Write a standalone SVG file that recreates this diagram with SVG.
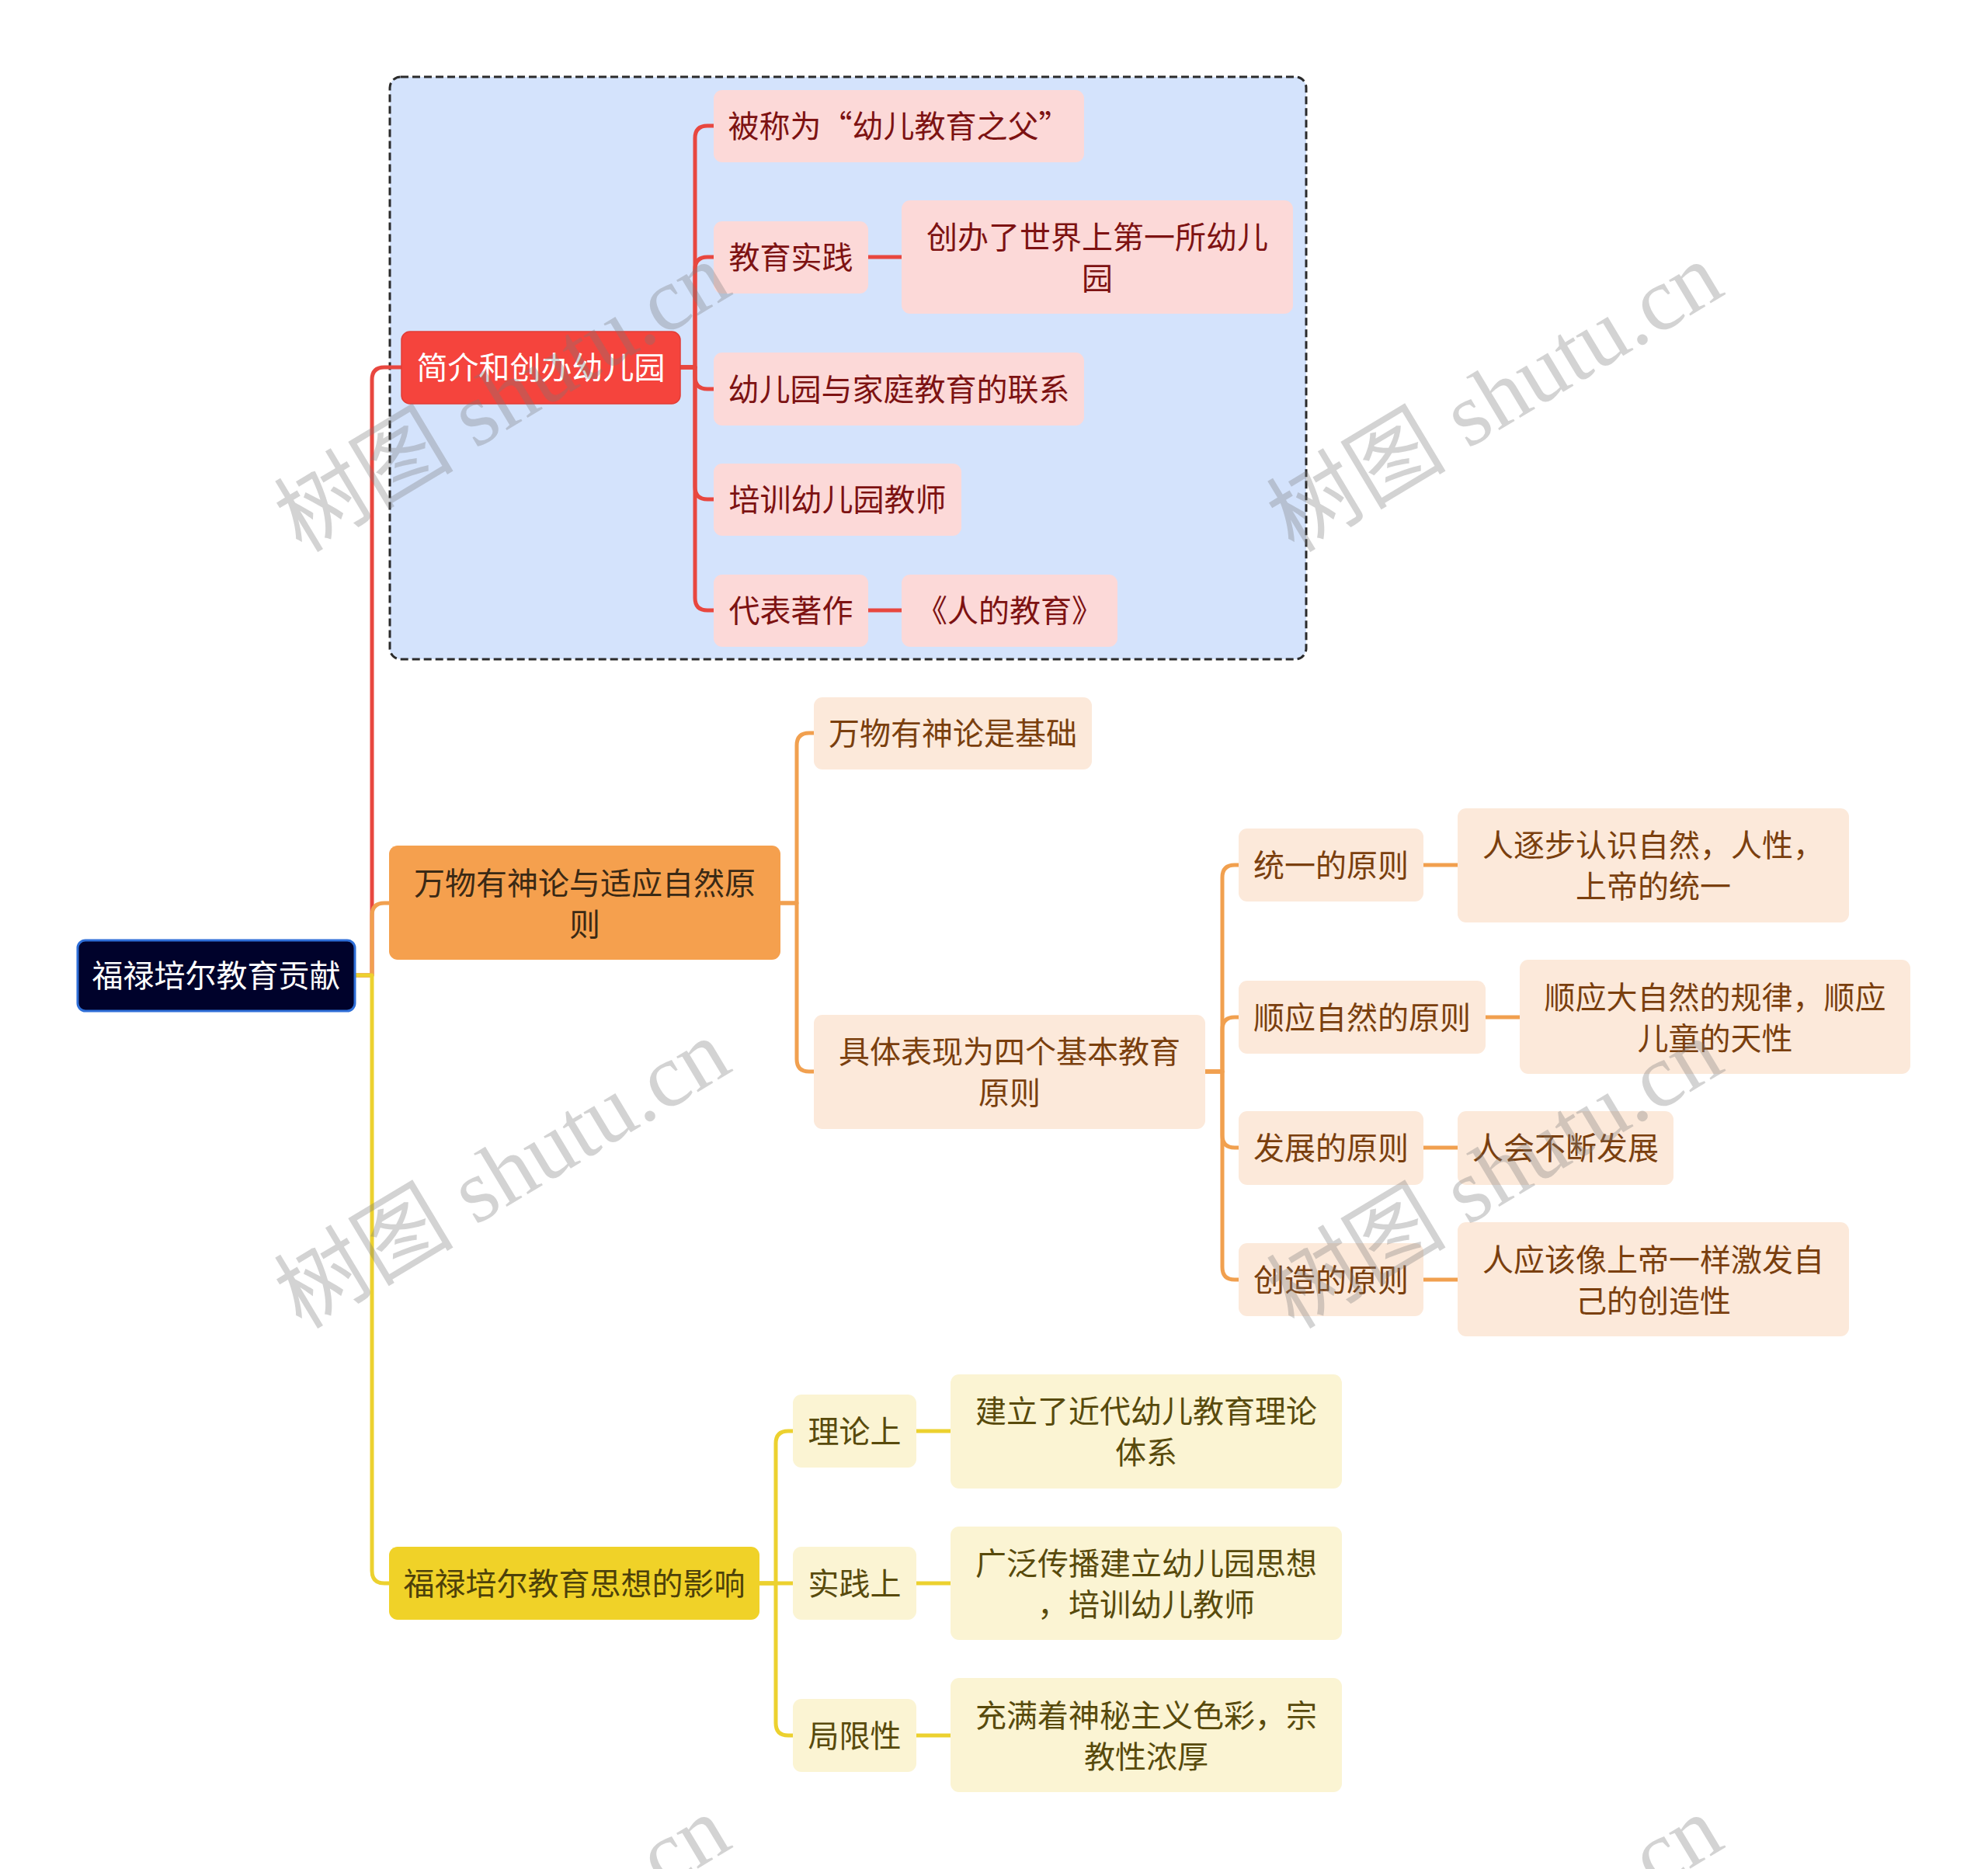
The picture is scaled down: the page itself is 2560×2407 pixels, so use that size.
<svg xmlns="http://www.w3.org/2000/svg" width="2560" height="2407" viewBox="0 0 2560 2407">
<style>
text{font-family:"Noto Sans CJK SC","Noto Sans",sans-serif;font-size:40px;text-anchor:middle;dominant-baseline:central}
g[id^="n-"] text,#root text{transform:translateY(-2px)}
.ln{fill:none;stroke-width:5;stroke-linecap:round;stroke-linejoin:round}
.lr{stroke:#e8473f}.lo{stroke:#f1a04f}.ly{stroke:#ecd12f}
.cr{fill:#fcd9d8}.co{fill:#fce9da}.cy{fill:#fbf4d3}
.tr{fill:#7d1212}.to{fill:#7a3f0e}.ty{fill:#584a0c}
.wm{font-family:"Liberation Serif","Noto Sans CJK SC",serif;font-size:116px;fill:#7a7a7a;fill-opacity:0.33;text-anchor:middle}
</style>
<rect width="2560" height="2407" fill="#ffffff"/>
<g id="boundary">
<rect x="502" y="99" width="1180" height="750" rx="14" fill="#d4e3fc" stroke="#2b2b2b" stroke-width="3" stroke-dasharray="10 5"/>
</g>
<g id="connectors">
<path class="ln lr" d="M458,1256 H479 V489 Q479,473 495,473 H517"/>
<path class="ln lo" d="M458,1256 H479 V1179 Q479,1163 495,1163 H501"/>
<path class="ln ly" d="M458,1256 H479 V2023 Q479,2039 495,2039 H501"/>
<path class="ln lr" d="M876,473 H895 V178 Q895,162 911,162 H919"/>
<path class="ln lr" d="M876,473 H895 V347 Q895,331 911,331 H919"/>
<path class="ln lr" d="M876,473 H895 V485 Q895,501 911,501 H919"/>
<path class="ln lr" d="M876,473 H895 V627 Q895,643 911,643 H919"/>
<path class="ln lr" d="M876,473 H895 V770 Q895,786 911,786 H919"/>
<path class="ln lr" d="M1118,331 H1161"/>
<path class="ln lr" d="M1118,786 H1161"/>
<path class="ln lo" d="M1005,1163 H1026 V960 Q1026,944 1042,944 H1048"/>
<path class="ln lo" d="M1005,1163 H1026 V1364 Q1026,1380 1042,1380 H1048"/>
<path class="ln lo" d="M1552,1380 H1574 V1130 Q1574,1114 1590,1114 H1595"/>
<path class="ln lo" d="M1552,1380 H1574 V1326 Q1574,1310 1590,1310 H1595"/>
<path class="ln lo" d="M1552,1380 H1574 V1462 Q1574,1478 1590,1478 H1595"/>
<path class="ln lo" d="M1552,1380 H1574 V1632 Q1574,1648 1590,1648 H1595"/>
<path class="ln lo" d="M1833,1114 H1877"/>
<path class="ln lo" d="M1913,1310 H1957"/>
<path class="ln lo" d="M1833,1478 H1877"/>
<path class="ln lo" d="M1833,1648 H1877"/>
<path class="ln ly" d="M978,2039 H999 V1859 Q999,1843 1015,1843 H1021"/>
<path class="ln ly" d="M978,2039 H1021"/>
<path class="ln ly" d="M978,2039 H999 V2219 Q999,2235 1015,2235 H1021"/>
<path class="ln ly" d="M1180,1843 H1224"/>
<path class="ln ly" d="M1180,2039 H1224"/>
<path class="ln ly" d="M1180,2235 H1224"/>
</g>
<g id="root">
<rect x="100" y="1211" width="357" height="91" rx="10" fill="#00022b" stroke="#2f6fd8" stroke-width="3"/>
<text x="278.5" y="1256" fill="#ffffff">福禄培尔教育贡献</text>
</g>
<g id="n-intro">
<rect x="517" y="427" width="359" height="93" rx="11" fill="#f5443d" stroke="#e23c36" stroke-width="1.5"/>
<text x="696.5" y="473" fill="#ffffff">简介和创办幼儿园</text>
</g>
<g id="n-father">
<rect x="919" y="116" width="477" height="93" rx="11" class="cr"/>
<text x="1157.5" y="162" class="tr">被称为“幼儿教育之父”</text>
</g>
<g id="n-practice">
<rect x="919" y="285" width="199" height="93" rx="11" class="cr"/>
<text x="1018.5" y="331" class="tr">教育实践</text>
</g>
<g id="n-first">
<rect x="1161" y="258" width="504" height="146" rx="11" class="cr"/>
<text x="1413" y="331" class="tr"><tspan x="1413" dy="-26.5">创办了世界上第一所幼儿</tspan><tspan x="1413" dy="53">园</tspan></text>
</g>
<g id="n-family">
<rect x="919" y="454" width="477" height="94" rx="11" class="cr"/>
<text x="1157.5" y="501" class="tr">幼儿园与家庭教育的联系</text>
</g>
<g id="n-train">
<rect x="919" y="597" width="319" height="93" rx="11" class="cr"/>
<text x="1078.5" y="643" class="tr">培训幼儿园教师</text>
</g>
<g id="n-works">
<rect x="919" y="740" width="199" height="93" rx="11" class="cr"/>
<text x="1018.5" y="786" class="tr">代表著作</text>
</g>
<g id="n-book">
<rect x="1161" y="740" width="278" height="93" rx="11" class="cr"/>
<text x="1300" y="786" class="tr">《人的教育》</text>
</g>
<g id="n-pantheism">
<rect x="501" y="1089" width="504" height="147" rx="11" fill="#f5a04e"/>
<text x="753" y="1163" fill="#3a2915"><tspan x="753" dy="-26.5">万物有神论与适应自然原</tspan><tspan x="753" dy="53">则</tspan></text>
</g>
<g id="n-basis">
<rect x="1048" y="898" width="358" height="93" rx="11" class="co"/>
<text x="1227" y="944" class="to">万物有神论是基础</text>
</g>
<g id="n-four">
<rect x="1048" y="1307" width="504" height="147" rx="11" class="co"/>
<text x="1300" y="1380" class="to"><tspan x="1300" dy="-26.5">具体表现为四个基本教育</tspan><tspan x="1300" dy="53">原则</tspan></text>
</g>
<g id="n-unity">
<rect x="1595" y="1067" width="238" height="94" rx="11" class="co"/>
<text x="1714" y="1114" class="to">统一的原则</text>
</g>
<g id="n-unity-d">
<rect x="1877" y="1041" width="504" height="147" rx="11" class="co"/>
<text x="2129" y="1114" class="to"><tspan x="2129" dy="-26.5">人逐步认识自然，人性，</tspan><tspan x="2129" dy="53">上帝的统一</tspan></text>
</g>
<g id="n-nature">
<rect x="1595" y="1263" width="318" height="94" rx="11" class="co"/>
<text x="1754" y="1310" class="to">顺应自然的原则</text>
</g>
<g id="n-nature-d">
<rect x="1957" y="1236" width="503" height="147" rx="11" class="co"/>
<text x="2208.5" y="1310" class="to"><tspan x="2208.5" dy="-26.5">顺应大自然的规律，顺应</tspan><tspan x="2208.5" dy="53">儿童的天性</tspan></text>
</g>
<g id="n-develop">
<rect x="1595" y="1431" width="238" height="95" rx="11" class="co"/>
<text x="1714" y="1478" class="to">发展的原则</text>
</g>
<g id="n-develop-d">
<rect x="1877" y="1431" width="278" height="95" rx="11" class="co"/>
<text x="2016" y="1478" class="to">人会不断发展</text>
</g>
<g id="n-create">
<rect x="1595" y="1601" width="238" height="94" rx="11" class="co"/>
<text x="1714" y="1648" class="to">创造的原则</text>
</g>
<g id="n-create-d">
<rect x="1877" y="1574" width="504" height="147" rx="11" class="co"/>
<text x="2129" y="1648" class="to"><tspan x="2129" dy="-26.5">人应该像上帝一样激发自</tspan><tspan x="2129" dy="53">己的创造性</tspan></text>
</g>
<g id="n-influence">
<rect x="501" y="1992" width="477" height="94" rx="11" fill="#f0d228"/>
<text x="739.5" y="2039" fill="#4d410a">福禄培尔教育思想的影响</text>
</g>
<g id="n-theory">
<rect x="1021" y="1796" width="159" height="94" rx="11" class="cy"/>
<text x="1100.5" y="1843" class="ty">理论上</text>
</g>
<g id="n-theory-d">
<rect x="1224" y="1770" width="504" height="147" rx="11" class="cy"/>
<text x="1476" y="1843" class="ty"><tspan x="1476" dy="-26.5">建立了近代幼儿教育理论</tspan><tspan x="1476" dy="53">体系</tspan></text>
</g>
<g id="n-practice2">
<rect x="1021" y="1992" width="159" height="94" rx="11" class="cy"/>
<text x="1100.5" y="2039" class="ty">实践上</text>
</g>
<g id="n-practice2-d">
<rect x="1224" y="1966" width="504" height="146" rx="11" class="cy"/>
<text x="1476" y="2039" class="ty"><tspan x="1476" dy="-26.5">广泛传播建立幼儿园思想</tspan><tspan x="1476" dy="53">，培训幼儿教师</tspan></text>
</g>
<g id="n-limit">
<rect x="1021" y="2188" width="159" height="94" rx="11" class="cy"/>
<text x="1100.5" y="2235" class="ty">局限性</text>
</g>
<g id="n-limit-d">
<rect x="1224" y="2161" width="504" height="147" rx="11" class="cy"/>
<text x="1476" y="2235" class="ty"><tspan x="1476" dy="-26.5">充满着神秘主义色彩，宗</tspan><tspan x="1476" dy="53">教性浓厚</tspan></text>
</g>
<g id="watermarks">
<text class="wm" transform="translate(647,512) rotate(-31)">树图 shutu.cn</text>
<text class="wm" transform="translate(1925,512) rotate(-31)">树图 shutu.cn</text>
<text class="wm" transform="translate(647,1512) rotate(-31)">树图 shutu.cn</text>
<text class="wm" transform="translate(1925,1512) rotate(-31)">树图 shutu.cn</text>
<text class="wm" transform="translate(647,2512) rotate(-31)">树图 shutu.cn</text>
<text class="wm" transform="translate(1925,2512) rotate(-31)">树图 shutu.cn</text>
</g>
</svg>
